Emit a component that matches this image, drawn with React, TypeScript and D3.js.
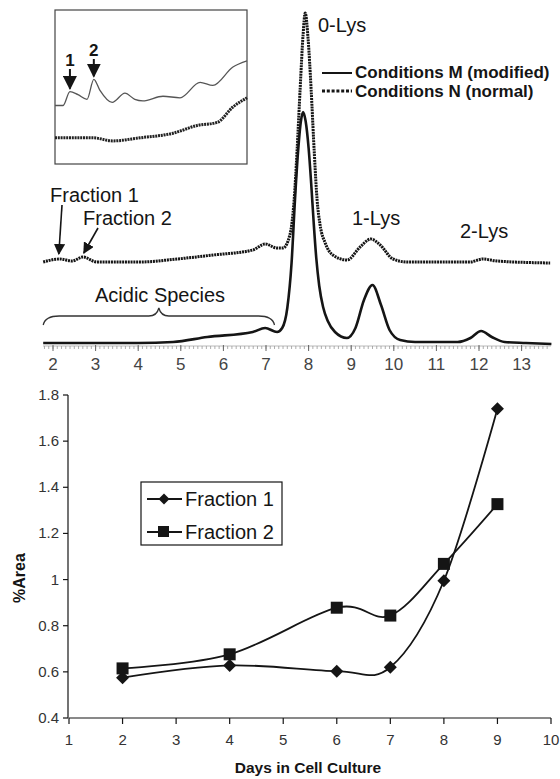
import * as d3 from "d3";

// chromatogram, conditions M (solid, lower trace): time (min) / signal (a.u.)
const condMTime = [1.77, 3.1, 4.0, 4.82, 5.62, 6.69, 6.98, 7.26, 7.38, 7.5, 7.6, 7.68, 7.75, 7.82, 7.87, 7.93, 8.0, 8.06, 8.12, 8.18, 8.25, 8.34, 8.45, 8.62, 8.9, 9.1, 9.3, 9.5, 9.7, 9.9, 10.15, 10.5, 11.5, 11.8, 12.05, 12.3, 12.6, 13.1, 13.7];
const condMSignal = [0, 0, 0, 1, 6, 11, 15, 11, 15, 35, 80, 143, 190, 222, 231, 222, 195, 160, 120, 85, 57, 36, 22, 11, 5, 15, 43, 58, 38, 13, 3, 1, 1, 5, 12, 6, 1, 0, -1];

// chromatogram, conditions N (dotted, upper trace)
const condNTime = [1.77, 2.16, 2.45, 2.7, 3.03, 4.04, 4.91, 5.76, 6.69, 6.98, 7.26, 7.4, 7.56, 7.66, 7.73, 7.8, 7.87, 7.92, 7.99, 8.06, 8.13, 8.2, 8.27, 8.39, 8.57, 8.9, 9.21, 9.46, 9.68, 9.98, 10.31, 11.79, 12.09, 12.42, 13.67];
const condNSignal = [81, 84, 82, 86, 81, 81, 84, 88, 93, 99, 95, 95, 108, 143, 193, 253, 308, 330, 303, 253, 193, 143, 118, 100, 88, 83, 96, 104, 98, 84, 81, 81, 84, 82, 80];

// inset (expanded early region)
const insetUpperTime = [1.8, 1.99, 2.15, 2.34, 2.55, 2.71, 2.85, 3.14, 3.44, 3.67, 3.86, 4.33, 4.73, 5.2, 5.5, 5.97, 6.3];
const insetUpperSignal = [38, 38, 47, 45, 42, 55, 48, 40, 46, 42, 41, 44, 43, 53, 51, 63, 67];
const insetLowerTime = [1.8, 2.69, 3.16, 3.79, 4.57, 5.13, 5.6, 5.97, 6.3];
const insetLowerSignal = [17, 17, 15, 17, 20, 25, 27, 37, 43];

const chromTicks = [2, 3, 4, 5, 6, 7, 8, 9, 10, 11, 12, 13];

// %Area vs days in cell culture
const days = [2, 4, 6, 7, 8, 9];
const fraction1 = [0.575, 0.628, 0.603, 0.62, 0.995, 1.74];
const fraction2 = [0.615, 0.676, 0.878, 0.844, 1.068, 1.327];
const dayTicks = [1, 2, 3, 4, 5, 6, 7, 8, 9, 10];
const areaTicks = [0.4, 0.6, 0.8, 1, 1.2, 1.4, 1.6, 1.8];

const FONT = "'Liberation Sans', Arial, sans-serif";
const INK = "#151515";

export default function App() {
  // top chromatogram scales
  const xc = d3.scaleLinear().domain([2, 13]).range([53, 521.6]);
  const yc = d3.scaleLinear().domain([0, 330]).range([343, 13]);
  const chromLine = d3
    .line<[number, number]>()
    .x((d) => xc(d[0]))
    .y((d) => yc(d[1]))
    .curve(d3.curveMonotoneX);
  const mPts = condMTime.map((t, i) => [t, condMSignal[i]] as [number, number]);
  const nPts = condNTime.map((t, i) => [t, condNSignal[i]] as [number, number]);

  // inset scales
  const xi = d3.scaleLinear().domain([1.8, 6.3]).range([55, 247]);
  const yi = d3.scaleLinear().domain([0, 100]).range([164, 10]);
  const insetLine = d3
    .line<[number, number]>()
    .x((d) => xi(d[0]))
    .y((d) => yi(d[1]))
    .curve(d3.curveMonotoneX);
  const iuPts = insetUpperTime.map((t, i) => [t, insetUpperSignal[i]] as [number, number]);
  const ilPts = insetLowerTime.map((t, i) => [t, insetLowerSignal[i]] as [number, number]);

  // bottom chart scales
  const x = d3.scaleLinear().domain([1, 10]).range([69, 551]);
  const y = d3.scaleLinear().domain([0.4, 1.8]).range([718, 395]);
  const areaLine = d3
    .line<number>()
    .x((_, i) => x(days[i]))
    .y((d) => y(d))
    .curve(d3.curveCardinal.tension(0));

  const minorTicks = d3.range(18, 137).map((v) => v / 10);

  const diamond = (cx: number, cy: number, r: number) =>
    `M${cx},${cy - r}L${cx + r},${cy}L${cx},${cy + r}L${cx - r},${cy}Z`;

  // brace under "Acidic Species"
  const bx0 = xc(1.77);
  const bx1 = xc(7.2);
  const bm = (bx0 + bx1) / 2;
  const by = 316;
  const brace = `M${bx0},${by + 9} Q${bx0 + 2},${by} ${bx0 + 16},${by} L${bm - 10},${by} Q${bm - 2},${by} ${bm},${by - 8} Q${bm + 2},${by} ${bm + 10},${by} L${bx1 - 16},${by} Q${bx1 - 2},${by} ${bx1},${by + 9}`;

  return (
    <svg
      width={560}
      height={779}
      style={{ position: "absolute", left: 0, top: 0, background: "#fff" }}
      fontFamily={FONT}
    >
      <defs>
        <marker id="ah" viewBox="0 0 10 10" refX="9" refY="5" markerWidth="7" markerHeight="7" orient="auto">
          <path d="M0,0L10,5L0,10Z" fill={INK} />
        </marker>
      </defs>

      {/* ---- chromatogram ---- */}
      <line x1={43} x2={551} y1={346} y2={346} stroke="#aaa" strokeWidth={0.8} />
      {minorTicks.map((v) => (
        <line key={v} x1={xc(v)} x2={xc(v)} y1={346} y2={349} stroke="#999" strokeWidth={0.8} />
      ))}
      {chromTicks.map((v) => (
        <g key={v}>
          <line x1={xc(v)} x2={xc(v)} y1={345} y2={351} stroke="#666" strokeWidth={1} />
          <text x={xc(v)} y={370} textAnchor="middle" fontSize={17} fill="#444">
            {v}
          </text>
        </g>
      ))}

      <path d={chromLine(mPts) ?? ""} fill="none" stroke={INK} strokeWidth={2.6} />
      <path d={chromLine(nPts) ?? ""} fill="none" stroke={INK} strokeWidth={3} strokeDasharray="2 0.8" />

      <text x={318} y={32} fontSize={20} fill={INK}>0-Lys</text>
      <text x={352} y={225} fontSize={20} fill={INK}>1-Lys</text>
      <text x={460} y={238} fontSize={20} fill={INK}>2-Lys</text>

      <line x1={322} x2={352} y1={73} y2={73} stroke={INK} strokeWidth={2} />
      <text x={355} y={78} fontSize={17} fontWeight="bold" fill={INK}>Conditions M (modified)</text>
      <line x1={322} x2={352} y1={91} y2={91} stroke={INK} strokeWidth={3} strokeDasharray="3 1.8" />
      <text x={355} y={97} fontSize={17} fontWeight="bold" fill={INK}>Conditions N (normal)</text>

      <text x={50} y={202} fontSize={20} fill={INK}>Fraction 1</text>
      <text x={83} y={225} fontSize={20} fill={INK}>Fraction 2</text>
      <line x1={62} y1={205} x2={xc(2.16) - 1} y2={yc(84) - 5} stroke={INK} strokeWidth={1.6} markerEnd="url(#ah)" />
      <line x1={98} y1={228} x2={xc(2.7) + 1} y2={yc(86) - 4} stroke={INK} strokeWidth={1.6} markerEnd="url(#ah)" />

      <text x={95} y={302} fontSize={20} fill={INK}>Acidic Species</text>
      <path d={brace} fill="none" stroke="#333" strokeWidth={1.3} />

      {/* inset */}
      <rect x={55} y={10} width={192} height={154} fill="#fff" stroke="#444" strokeWidth={1.2} />
      <path d={insetLine(iuPts) ?? ""} fill="none" stroke="#555" strokeWidth={1.3} />
      <path d={insetLine(ilPts) ?? ""} fill="none" stroke="#222" strokeWidth={3} strokeDasharray="2 0.8" />
      <text x={xi(2.15)} y={66} textAnchor="middle" fontSize={17} fontWeight="bold" fill={INK}>1</text>
      <line x1={xi(2.15)} x2={xi(2.15)} y1={69} y2={yi(47) - 3} stroke={INK} strokeWidth={2} markerEnd="url(#ah)" />
      <text x={xi(2.71)} y={56} textAnchor="middle" fontSize={17} fontWeight="bold" fill={INK}>2</text>
      <line x1={xi(2.71)} x2={xi(2.71)} y1={59} y2={yi(55) - 3} stroke={INK} strokeWidth={2} markerEnd="url(#ah)" />

      {/* ---- %Area chart ---- */}
      <line x1={x(1)} x2={x(10)} y1={y(0.4)} y2={y(0.4)} stroke={INK} strokeWidth={1.2} />
      <line x1={x(1) - 1} x2={x(1) - 1} y1={y(0.4)} y2={y(1.8)} stroke={INK} strokeWidth={1.2} />
      {areaTicks.map((v) => (
        <g key={v}>
          <line x1={x(1) - 6} x2={x(1) - 1} y1={y(v)} y2={y(v)} stroke={INK} strokeWidth={1.2} />
          <text x={x(1) - 10} y={y(v) + 5} textAnchor="end" fontSize={15} fill="#333">
            {d3.format("~g")(v)}
          </text>
        </g>
      ))}
      {dayTicks.map((v) => (
        <g key={v}>
          <line x1={x(v)} x2={x(v)} y1={y(0.4)} y2={y(0.4) + 6} stroke={INK} strokeWidth={1.2} />
          <text x={x(v)} y={y(0.4) + 27} textAnchor="middle" fontSize={15} fill="#333">
            {v}
          </text>
        </g>
      ))}
      <text x={308} y={773} textAnchor="middle" fontSize={15.5} fontWeight="bold" fill={INK}>
        Days in Cell Culture
      </text>
      <text
        transform={`translate(25,${578}) rotate(-90)`}
        textAnchor="middle"
        fontSize={16}
        fontWeight="bold"
        fill={INK}
      >
        %Area
      </text>

      <path d={areaLine(fraction1) ?? ""} fill="none" stroke={INK} strokeWidth={1.8} />
      <path d={areaLine(fraction2) ?? ""} fill="none" stroke={INK} strokeWidth={1.8} />
      {fraction1.map((v, i) => (
        <path key={"f1" + i} d={diamond(x(days[i]), y(v), 6.5)} fill={INK} />
      ))}
      {fraction2.map((v, i) => (
        <rect key={"f2" + i} x={x(days[i]) - 6} y={y(v) - 6} width={12} height={12} fill={INK} />
      ))}

      {/* legend */}
      <rect x={141} y={482} width={141} height={63} fill="#fff" stroke={INK} strokeWidth={1.2} />
      <line x1={147} x2={182} y1={499} y2={499} stroke={INK} strokeWidth={1.8} />
      <path d={diamond(164, 499, 5.5)} fill={INK} />
      <text x={185} y={506} fontSize={20} fill={INK}>Fraction 1</text>
      <line x1={147} x2={182} y1={532} y2={532} stroke={INK} strokeWidth={1.8} />
      <rect x={158} y={526} width={11} height={11} fill={INK} />
      <text x={185} y={539} fontSize={20} fill={INK}>Fraction 2</text>
    </svg>
  );
}
